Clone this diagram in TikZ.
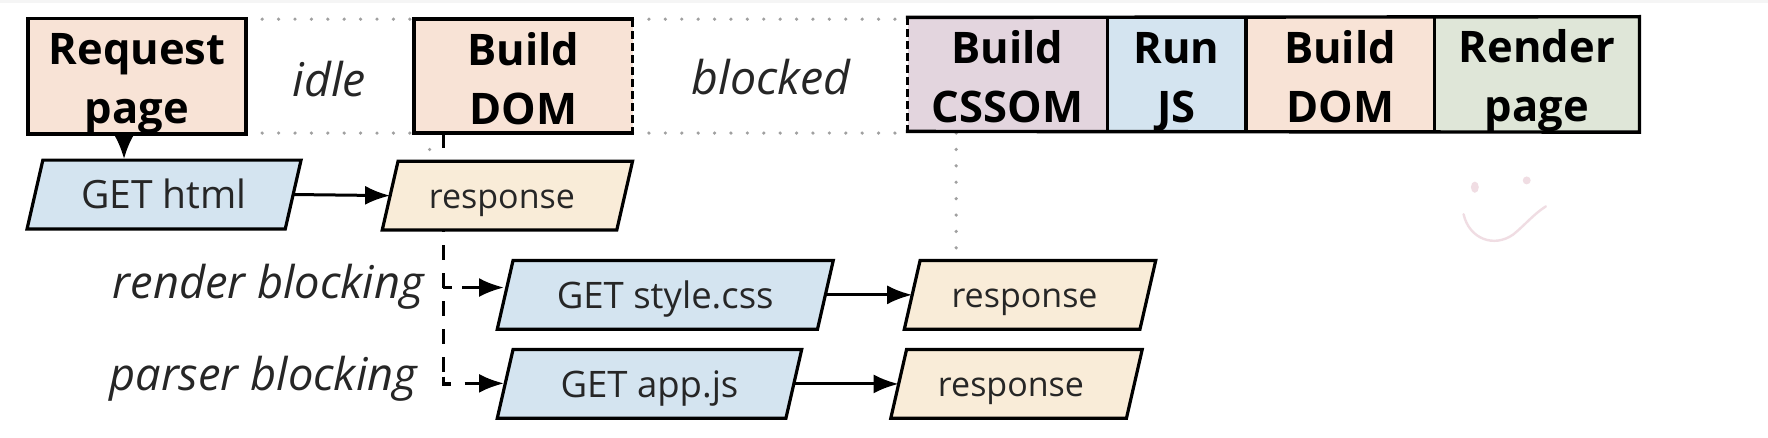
\documentclass[tikz,border=0pt]{standalone}
\usepackage{fontspec}
\setmainfont{Open Sans}
\usetikzlibrary{arrows.meta,calc}
\definecolor{peach}{HTML}{F8E3D6}
\definecolor{skyb}{HTML}{D4E4F0}
\definecolor{plum}{HTML}{E3D5DE}
\definecolor{sage}{HTML}{DFE6D8}
\definecolor{cream}{HTML}{F9ECD8}
\definecolor{dotc}{HTML}{A0A0A0}
\definecolor{smile}{HTML}{F0DDE3}
\def\uu{1.1276}
\newcommand{\twolines}[2]{\rule{0pt}{46pt}#1\\#2\rule[-9pt]{0pt}{9pt}}
% \para{name}{bottom-left x}{top-right x}{top y}{colour}{size}{text}
\newcommand{\para}[7]{%
  \pgfmathsetmacro{\pa}{#2}\pgfmathsetmacro{\pb}{#2+14}\pgfmathsetmacro{\pc}{#3}\pgfmathsetmacro{\pd}{#3-14}%
  \pgfmathsetmacro{\pt}{#4}\pgfmathsetmacro{\pe}{#4+61}\pgfmathsetmacro{\pm}{#4+30.5}\pgfmathsetmacro{\px}{(#2+#3)/2}%
  \pgfmathsetmacro{\pw}{(#3-#2-14)*\uu}%
  \draw[parashape,fill=#5] (\pa,\pe) -- (\pb,\pt) -- (\pc,\pt) -- (\pd,\pe) -- cycle;
  \node[paratext,minimum width=\pw pt,font=\fontsize{#6}{#6}\selectfont] (#1) at (\px,\pm) {\rule[-0.25em]{0pt}{\dimexpr 1em+9pt\relax}#7};
}
\tikzset{
  x=1.1276pt,y=-1.1276pt,
  topbox/.style={rectangle,inner sep=0pt,outer sep=0pt,align=center,minimum height=\uu*101pt,
    font=\fontsize{43.5}{59}\selectfont\bfseries,text=black},
  bline/.style={line width=3.4pt,line cap=rect},
  dashside/.style={line width=3.4pt,dash pattern=on 8pt off 4pt},
  parashape/.style={draw=black,line width=3.2pt,line join=miter},
  paratext/.style={rectangle,inner sep=0pt,outer sep=0pt,minimum height=\uu*61pt,text=black!85},
  tag/.style={font=\fontsize{46.5}{50}\selectfont\itshape,text=black!85,inner sep=0pt},
  tagsm/.style={tag,font=\fontsize{45.2}{50}\selectfont\itshape},
  dotline/.style={dotc,line width=3.6pt,line cap=round,dash pattern=on 0pt off 16.4pt},
  flow/.style={line width=3pt,-{Latex[length=25pt,width=19pt]}},
  dashflow/.style={line width=3.2pt,dash pattern=on 15pt off 13pt},
  cornerline/.style={line width=3.2pt}
}
\begin{document}
\begin{tikzpicture}
\useasboundingbox (0,0) rectangle (1568,388.44);
\fill[white] (0,0) rectangle (1568,388.44);
\fill[black!4] (0,0) rectangle (1568,3);
% dotted guides
\coordinate (d1a) at (218,17); \coordinate (d1b) at (367,17);
\coordinate (d2a) at (218,118); \coordinate (d2b) at (367,118);
\coordinate (d3a) at (561,17); \coordinate (d3b) at (805,17);
\coordinate (d4a) at (561,118); \coordinate (d4b) at (805,118);
\coordinate (d5a) at (848,118); \coordinate (d5b) at (848,222);
\coordinate (d6a) at (381,118); \coordinate (d6b) at (381,142);
\draw[dotline] (d1a)--(d1b); \draw[dotline] (d2a)--(d2b);
\draw[dotline] (d3a)--(d3b); \draw[dotline] (d4a)--(d4b);
\draw[dotline] (d5a)--(d5b); \draw[dotline] (d6a)--(d6b);
% top boxes
\node[topbox,fill=peach,minimum width=\uu*193pt] (req) at (121.5,67.5) {\twolines{Request}{page}};
\node[topbox,fill=peach,minimum width=\uu*194pt] (dom) at (464,67.5) {\twolines{Build}{DOM}};
\node[topbox,fill=plum,minimum width=\uu*177pt,minimum height=\uu*100pt] (css) at (893.5,66) {\twolines{Build}{CSSOM}};
\node[topbox,fill=skyb,minimum width=\uu*123pt,minimum height=\uu*100pt] (js) at (1043.5,66) {\twolines{Run}{JS}};
\node[topbox,fill=peach,minimum width=\uu*167pt,minimum height=\uu*100pt] (dom2) at (1188.5,66) {\twolines{Build}{DOM}};
\node[topbox,fill=sage,minimum width=\uu*182pt,minimum height=\uu*100pt] (ren) at (1363,66) {\twolines{Render}{page}};
\draw[bline] (req.north west) rectangle (req.south east);
\draw[bline] (dom.north east) -- (dom.north west) -- (dom.south west) -- (dom.south east);
\draw[dashside] (dom.north east) -- (dom.south east);
\draw[dashside] (css.north west) -- (css.south west);
\draw[bline] (css.north west) -- (ren.north east) -- (ren.south east) -- (css.south west);
\draw[bline] (css.north east) -- (css.south east);
\draw[bline] (js.north east) -- (js.south east);
\draw[bline] (dom2.north east) -- (dom2.south east);
% dashed trunk (behind the parallelogram)
\coordinate (tr0) at (393,118);
\coordinate (tr1) at (393,255);
\coordinate (tr3) at (393,334);
\coordinate (tr2) at (393,340.5);
\coordinate (br1) at (401,255);
\coordinate (br2) at (400,340.5);
\draw[dashflow] (tr0) -- (tr3);
\draw[cornerline] (tr3) -- (tr2) -- (br2);
\draw[cornerline] (tr1) -- (br1);
% parallelograms
\para{ghtml}{24}{267}{142}{skyb}{39}{GET html}
\para{r1}{339}{561}{143}{cream}{34}{\hspace*{-11pt}response}
\para{gcss}{441}{739}{231}{skyb}{36.5}{GET style.css}
\para{r2}{802}{1025}{231}{cream}{34}{\hspace*{-11pt}response}
\para{gjs}{441}{711}{310}{skyb}{36.5}{GET app.js}
\para{r3}{790}{1013}{310}{cream}{34}{\hspace*{-11pt}response}
% connectors
\coordinate (rq) at (110,118);
\coordinate (rqe) at (110,141);
\draw[line width=3pt,-{Latex[length=25pt,width=21pt]}] (rq) -- (rqe);
\draw[flow] (ghtml.east) -- (r1.west);
\draw[flow] (gcss.east) -- (r2.west);
\draw[flow] (gjs.east) -- (r3.west);
\coordinate (a1) at (410,255); \coordinate (a1e) at (447,255);
\coordinate (a2) at (412,340); \coordinate (a2e) at (447,340);
\draw[flow] (a1) -- (a1e);
\draw[flow] (a2) -- (a2e);
% labels
\node[tag] (idle) at (292,70) {idle};
\node[tag] (blocked) at (684,68) {blocked};
\node[tagsm,anchor=east] (rb) at (376,254) {render blocking};
\node[tagsm,anchor=east] (pb) at (370,336) {parser blocking};
% smiley
\fill[smile] (1308,166) ellipse (3.5 and 5);
\fill[smile] (1354,160) circle (3.5);
\draw[smile,line width=2.4pt,line cap=round] (1298,190) .. controls (1303,212) and (1325,220) .. (1342,208) .. controls (1352,200) and (1360,190) .. (1371,183);
\end{tikzpicture}
\end{document}
